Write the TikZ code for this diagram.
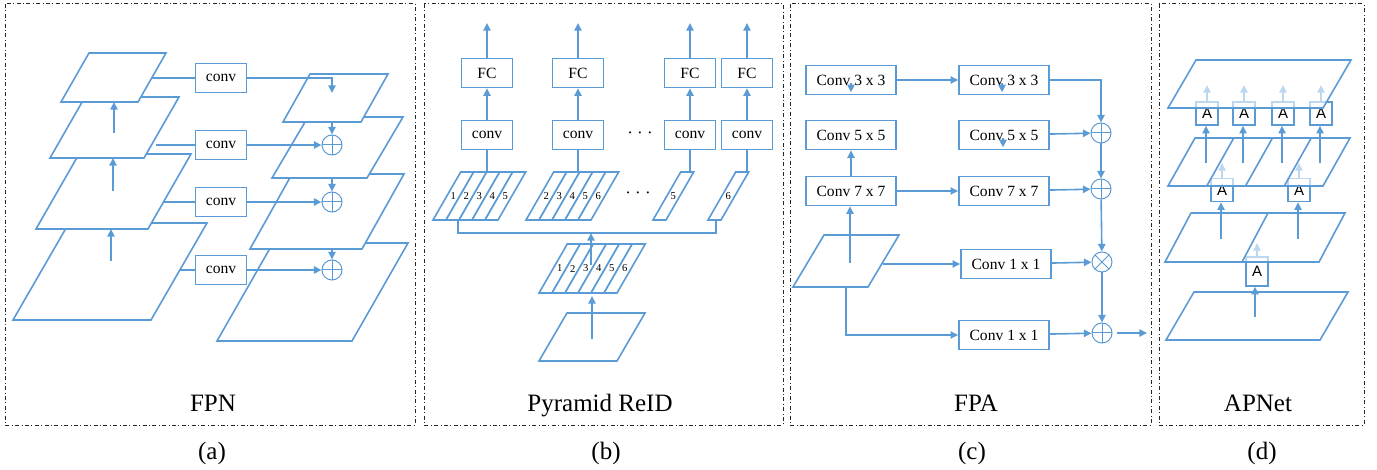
\documentclass[tikz,border=0pt]{standalone}
\usepackage{fontspec}
\setmainfont{Liberation Serif}
\newfontfamily\arialfont{Liberation Sans}
\usetikzlibrary{arrows.meta,calc}
\definecolor{lineblue}{RGB}{91,155,213}
\tikzset{
  bline/.style={draw=lineblue, line width=0.8pt},
  barrow/.style={bline, -{Triangle[width=3.6pt,length=3.8pt]}},
  plane/.style={bline, fill=white},
  cbox/.style={bline, fill=white, inner sep=0pt, minimum width=25.5pt, minimum height=14.5pt, font=\fontsize{7.8}{9}\selectfont},
  wbox/.style={cbox, minimum width=45pt},
  abox/.style={cbox, minimum width=11pt, minimum height=11.5pt, font=\arialfont\fontsize{7.5}{9}\selectfont},
  opsym/.style={circle, draw=lineblue, line width=0.5pt, fill=white, minimum size=10pt, inner sep=0pt},
  oplus/.style={opsym, path picture={\draw[lineblue, line width=0.5pt] (path picture bounding box.north) -- (path picture bounding box.south) (path picture bounding box.west) -- (path picture bounding box.east);}},
  otimes/.style={opsym, path picture={\draw[lineblue, line width=0.5pt] (path picture bounding box.north west) -- (path picture bounding box.south east) (path picture bounding box.south west) -- (path picture bounding box.north east);}},
  digit/.style={inner sep=0pt, font=\fontsize{5.3}{6}\selectfont},
  ellip/.style={inner sep=0pt, font=\fontsize{8.5}{9}\selectfont},
  panelframe/.style={draw=black!85, line width=0.5pt, dash pattern=on 2pt off 1.2pt on 0.5pt off 1.2pt},
  capt/.style={anchor=base, font=\fontsize{12.5}{14}\selectfont}
}
\newcommand{\featplane}[7][]{%
  \draw[plane,#1] (#3,#4) coordinate (#2-bl) -- ++(#5,0) coordinate (#2-br) -- ++(#7,-#6) coordinate (#2-tr) -- ++(-#5,0) coordinate (#2-tl) -- cycle;}
\newcommand{\stripes}[6]{%
  \foreach \k in {1,...,#4}{%
    \pgfmathtruncatemacro{\lab}{#5+\k-1}%
    \draw[plane] (#2+13*\k-13,#3) -- ++(13,0) -- ++(0.577*#6,-#6) -- ++(-13,0) -- cycle;
    \node[digit] (#1-\k) at (#2+13*\k-6.5+0.289*#6,#3-#6/2) {\lab};
  }}

\begin{document}
\begin{tikzpicture}[x=0.5pt,y=-0.5pt]
\useasboundingbox (0,0) rectangle (1377,470);

% (a) FPN
\featplane{aL4}{13}{320}{138}{97}{56}
\featplane{aL3}{36}{229}{112}{75}{43}
\featplane{aL2}{50}{158}{94}{61}{35}
\featplane{aL1}{61}{102}{77}{49}{28}
\coordinate (aU1) at (114,133);
\coordinate (aU2) at (113,191);
\coordinate (aU3) at (111,261);
\draw[barrow] (aU1) -- (aU1 |- aL1-bl);
\draw[barrow] (aU2) -- (aU2 |- aL2-bl);
\draw[barrow] (aU3) -- (aU3 |- aL3-bl);
\featplane{aR4}{217}{341}{135}{98}{56}
\featplane{aR3}{250}{249}{112}{75}{42}
\featplane{aR2}{272}{178}{95}{61}{36}
\featplane{aR1}{283}{122}{78}{48}{27}
\foreach \i/\y in {1/78,2/145,3/202,4/270} \node[cbox] (aC\i) at (221,\y) {conv};
\coordinate (aO1) at (152,78);
\coordinate (aO2) at (156,145);
\coordinate (aO3) at (163,202);
\coordinate (aO4) at (179,270);
\foreach \i in {1,...,4} \draw[bline] (aO\i) -- (aC\i);
\node[oplus] (aP1) at (332,145) {};
\node[oplus] (aP2) at (332,202) {};
\node[oplus] (aP3) at (332,270) {};
\coordinate (aIn) at (332,93);
\draw[barrow] (aC1) -| (aIn);
\draw[barrow] (aC2) -- (aP1);
\draw[barrow] (aC3) -- (aP2);
\draw[barrow] (aC4) -- (aP3);
\draw[barrow] (aP1 |- aR1-bl) -- (aP1);
\draw[barrow] (aP2 |- aR2-bl) -- (aP2);
\draw[barrow] (aP3 |- aR3-bl) -- (aP3);

% (b) Pyramid ReID
\foreach \i/\x in {1/487,2/578,3/690,4/747}{
  \node[cbox] (bF\i) at (\x,73) {FC};
  \node[cbox] (bC\i) at (\x,135) {conv};
  \coordinate (bT\i) at (\x,23);
  \coordinate (bS\i) at (\x,172);
  \draw[barrow] (bF\i) -- (bT\i);
  \draw[barrow] (bC\i) -- (bF\i);
  \draw[bline] (bS\i) -- (bC\i);
}
\stripes{bG1}{433}{220}{5}{1}{48}
\stripes{bG2}{526}{220}{5}{2}{48}
\stripes{bG3}{653}{220}{1}{5}{48}
\stripes{bG4}{708}{220}{1}{6}{48}
\node[ellip] (bD1) at (640,135) {· · ·};
\node[ellip] (bD2) at (638,195) {· · ·};
\coordinate (bL) at (458,220);
\coordinate (bR) at (716,220);
\draw[bline] (bL) -- ++(0,13) -| (bR);
\stripes{bM}{539}{293}{6}{1}{49}
\featplane{bB}{539}{361}{78}{48}{28}
\coordinate (bUp) at (591,265);
\coordinate (bJ) at (591,233);
\draw[barrow] (bUp) -- (bJ);
\coordinate (bIn) at (592,339);
\coordinate (bMb) at (592,296);
\draw[barrow] (bIn) -- (bMb);

% (c) FPA
\node[wbox] (c3a) at (851,80) {Conv 3 x 3};
\node[wbox] (c3b) at (1004,80) {Conv 3 x 3};
\node[wbox] (c5a) at (851,135) {Conv 5 x 5};
\node[wbox] (c5b) at (1004,135) {Conv 5 x 5};
\node[wbox] (c7a) at (851,191) {Conv 7 x 7};
\node[wbox] (c7b) at (1004,191) {Conv 7 x 7};
\node[wbox] (c1a) at (1006,264) {Conv 1 x 1};
\node[wbox] (c1b) at (1004,335) {Conv 1 x 1};
\node[oplus] (cP1) at (1101,133) {};
\node[oplus] (cP2) at (1101,189) {};
\node[otimes] (cX) at (1102,262) {};
\node[oplus] (cP3) at (1102,333) {};
\featplane{cIn}{793}{287}{75}{52}{31}
\coordinate (cA) at (850,263);
\coordinate (cB) at (883,264);
\coordinate (cC) at (846,287);
\coordinate (cOut) at (1147,333);
\draw[barrow] (c3a) -- (c3b);
\draw[barrow] (c3b) -| (cP1);
\draw[barrow] (c5b) -- (cP1);
\draw[barrow] (cP1) -- (cP2);
\draw[barrow] (c7a) -- (c7b);
\draw[barrow] (c7b) -- (cP2);
\draw[barrow] (c7a) -- (c5a);
\draw[barrow] (cA) -- (cA |- c7a.south);
\draw[barrow] (cB) -- (c1a);
\draw[barrow] (c1a) -- (cX);
\draw[barrow] (cP2) -- (cX);
\draw[barrow] (cX) -- (cP3);
\draw[barrow] (cC) |- (c1b);
\draw[barrow] (c1b) -- (cP3);
\draw[barrow, shorten <=2pt] (cP3) -- (cOut);
\draw[barrow] ([yshift=6pt]c3a.south) -- ([yshift=1.5pt]c3a.south);
\draw[barrow] ([xshift=-1pt,yshift=6pt]c3b.south) -- ([xshift=-1pt,yshift=1.5pt]c3b.south);
\draw[barrow] ([xshift=-0.5pt,yshift=6pt]c5b.south) -- ([xshift=-0.5pt,yshift=1.5pt]c5b.south);

% (d) APNet
\featplane{dL4}{1166}{340}{154}{48}{28}
\node[abox, minimum height=14.5pt] (dA5) at (1257,271.5) {A};
\coordinate (dS5) at (1255,317);
\coordinate (dT5) at (1257,243);
\draw[barrow] (dS5) -- (dS5 |- dA5.south);
\draw[barrow] (dA5) -- (dT5);
\featplane[fill opacity=0.6]{dL3}{1165}{262}{154}{49}{26}
\draw[bline] ($(dL3-bl)!0.5!(dL3-br)$) -- ($(dL3-tl)!0.5!(dL3-tr)$);
\foreach \i/\x in {1/1222,2/1299}{
  \node[abox] (dB\i) at (\x,190) {A};
  \coordinate (dR\i) at (\x-1,239);
  \coordinate (dQ\i) at (\x,163);
  \draw[barrow] (dR\i) -- (dR\i |- dB\i.south);
  \draw[barrow] (dB\i) -- (dQ\i);
}
\featplane[fill opacity=0.6]{dL2}{1168}{186}{155}{48}{27}
\foreach \f in {0.25,0.5,0.75}
  \draw[bline] ($(dL2-bl)!\f!(dL2-br)$) -- ($(dL2-tl)!\f!(dL2-tr)$);
\foreach \i/\x in {1/1207,2/1244,3/1283,4/1321}{
  \node[abox] (dA\i) at (\x,113.5) {A};
  \coordinate (dS\i) at (\x-1,163);
  \coordinate (dT\i) at (\x,85);
  \draw[barrow] (dS\i) -- (dS\i |- dA\i.south);
  \draw[barrow] (dA\i) -- (dT\i);
}
\featplane[fill opacity=0.6]{dL1}{1168}{108}{155}{48}{28}

% frames and captions
\draw[panelframe] (5,4) rectangle (415,425);
\draw[panelframe] (424,4) rectangle (783,425);
\draw[panelframe] (790,4) rectangle (1151,425);
\draw[panelframe] (1159,4) rectangle (1364,425);
\node[capt] (tA) at (213,411) {FPN};
\node[capt] (tB) at (600,411) {Pyramid ReID};
\node[capt] (tC) at (976,411) {FPA};
\node[capt] (tD) at (1258,411) {APNet};
\node[capt] (sA) at (212,459) {(a)};
\node[capt] (sB) at (606,459) {(b)};
\node[capt] (sC) at (972,459) {(c)};
\node[capt] (sD) at (1262,459) {(d)};
\end{tikzpicture}
\end{document}
